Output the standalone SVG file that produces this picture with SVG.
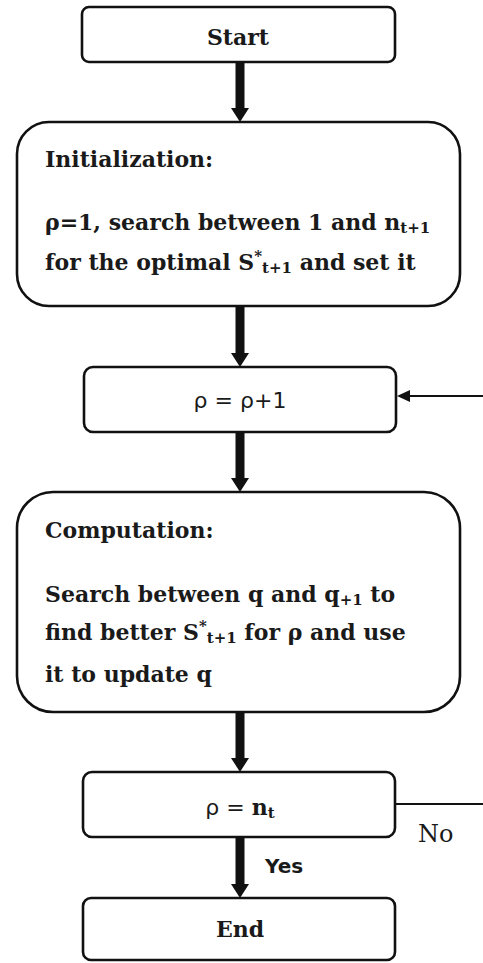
<svg xmlns="http://www.w3.org/2000/svg" width="483" height="963" viewBox="0 0 483 963">
<defs>
<style>
.box{fill:#fff;stroke:#111;stroke-width:2.6}
.t{font-family:"DejaVu Serif","Liberation Serif",serif;font-weight:bold;font-size:22px;fill:#1a1a1a}
.s{font-family:"DejaVu Sans","Verdana",sans-serif;font-size:22px;fill:#1a1a1a}
.sub{font-size:15px}
.shaft{stroke:#111;stroke-width:9;fill:none}
.thin{stroke:#111;stroke-width:2.2;fill:none}
</style>
</defs>
<rect width="483" height="963" fill="#fff"/>
<g id="connectors">
<line class="shaft" x1="240" y1="62" x2="240" y2="110"/>
<path d="M231,108 L249,108 L240,122 Z" fill="#111"/>
<line class="shaft" x1="240" y1="306" x2="240" y2="355"/>
<path d="M231,353 L249,353 L240,367 Z" fill="#111"/>
<line class="shaft" x1="240" y1="432" x2="240" y2="480"/>
<path d="M231,478 L249,478 L240,492 Z" fill="#111"/>
<line class="shaft" x1="240" y1="712" x2="240" y2="760"/>
<path d="M231,758 L249,758 L240,772 Z" fill="#111"/>
<line class="shaft" x1="240" y1="837" x2="240" y2="886"/>
<path d="M231,884 L249,884 L240,898 Z" fill="#111"/>
<line class="thin" x1="483" y1="396" x2="408" y2="396"/>
<path d="M397,396 L410,390 L410,402 Z" fill="#111"/>
<line class="thin" x1="395" y1="804" x2="483" y2="804"/>
<text class="s" x="265" y="873" style="font-weight:bold;font-size:20px">Yes</text>
<text class="t" x="418" y="842" style="font-weight:normal;font-size:24px">No</text>
</g>
<g id="start">
<rect class="box" x="82" y="7" width="313" height="55" rx="7"/>
<text class="t" x="238" y="45" text-anchor="middle">Start</text>
</g>
<g id="init">
<rect class="box" x="17" y="122" width="443" height="184" rx="32"/>
<text class="t" x="45" y="167">Initialization:</text>
<text class="t" x="45" y="230">ρ=1, search between 1 and n<tspan class="sub" dy="3">t+1</tspan></text>
<text class="t" x="45" y="270">for the optimal S<tspan class="sub" dy="-9">*</tspan><tspan class="sub" dy="12">t+1</tspan><tspan dy="-3"> and set it</tspan></text>
</g>
<g id="inc">
<rect class="box" x="84" y="367" width="312" height="65" rx="9"/>
<text class="s" x="240" y="408" text-anchor="middle">ρ = ρ+1</text>
</g>
<g id="comp">
<rect class="box" x="17" y="492" width="443" height="220" rx="36"/>
<text class="t" x="45" y="538">Computation:</text>
<text class="t" x="45" y="602">Search between q and q<tspan class="sub" dy="3">+1</tspan><tspan dy="-3"> to</tspan></text>
<text class="t" x="45" y="640">find better S<tspan class="sub" dy="-9">*</tspan><tspan class="sub" dy="12">t+1</tspan><tspan dy="-3"> for ρ and use</tspan></text>
<text class="t" x="45" y="682">it to update q</text>
</g>
<g id="check">
<rect class="box" x="83" y="772" width="312" height="65" rx="9"/>
<text class="t" x="240" y="815" text-anchor="middle"><tspan class="s" style="font-weight:normal">ρ = </tspan>n<tspan class="sub" dy="3">t</tspan></text>
</g>
<g id="end">
<rect class="box" x="83" y="898" width="312" height="62" rx="8"/>
<text class="t" x="240" y="937" text-anchor="middle">End</text>
</g>
</svg>
